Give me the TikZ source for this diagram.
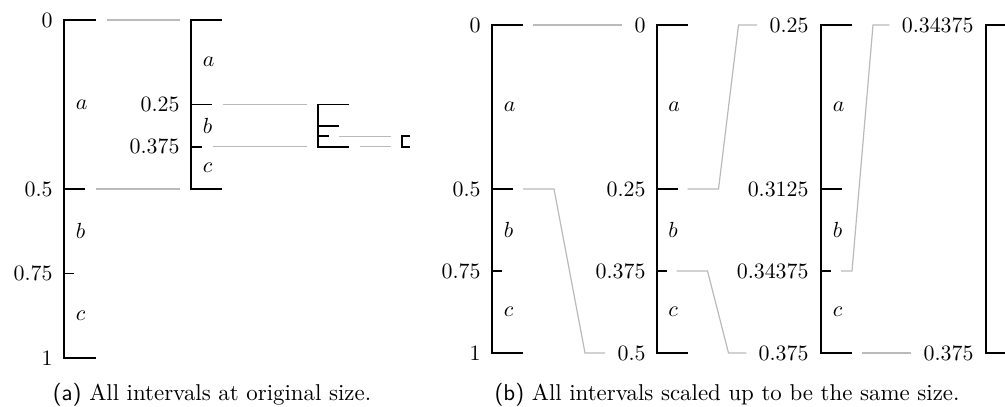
\documentclass[tikz,border=0pt]{standalone}
\usetikzlibrary{calc}

\tikzset{
  bar/.style={line width=0.9pt},
  link/.style={black!27, line width=0.55pt},
  val/.style={anchor=east, inner sep=0pt},
  part/.style={anchor=west, inner sep=0pt},
  caption/.style={scale=1.045},
}

\begin{document}
\begin{tikzpicture}[x=0.01605cm, y=-0.01605cm]
  \useasboundingbox (0,0) rectangle (1005,407);

  % (a) All intervals at original size, y = 20 + 338 v.
  \draw[bar] (96,20) coordinate (a1-0) -- (64,20) -- (64,358) -- (96,358) coordinate (a1-1);
  \draw[bar] (64,189) -- (85,189) coordinate (a1-h);
  \draw[bar] (64,273.5) -- (74,273.5) coordinate (a1-q);
  \node[val] (a1-v0) at (53,20) {0};
  \node[val] (a1-vh) at (53,189) {0.5};
  \node[val] (a1-vq) at (53,273.5) {0.75};
  \node[val] (a1-v1) at (53,358) {1};
  \node[part] (a1-a) at (75.5,104.5) {$a$};
  \node[part] (a1-b) at (75.5,231.25) {$b$};
  \node[part] (a1-c) at (75.5,315.75) {$c$};

  % First part, [0, 0.5].
  \draw[bar] (222,20) -- (191,20) coordinate (a2-top) -- (191,189) coordinate (a2-bot) -- (222,189);
  \draw[bar] (191,104.5) -- (212,104.5) coordinate (a2-h);
  \draw[bar] (191,146.75) -- (202,146.75) coordinate (a2-q);
  \node[val] (a2-vh) at (180,104.5) {0.25};
  \node[val] (a2-vq) at (180,146.75) {0.375};
  \node[part] (a2-a) at (202.5,62.25) {$a$};
  \node[part] (a2-b) at (202.5,125.6) {$b$};
  \node[part] (a2-c) at (202.5,167.9) {$c$};

  % Second part, [0.25, 0.375].
  \draw[bar] (349,104.5) -- (318,104.5) coordinate (a3-top) -- (318,146.75) coordinate (a3-bot) -- (349,146.75) coordinate (a3-1);
  \draw[bar] (318,125.6) -- (339,125.6);
  \draw[bar] (318,136.2) -- (329,136.2) coordinate (a3-q);

  % Third part, [0.34375, 0.375].
  \draw[bar] (410,136.2) -- (402,136.2) coordinate (a4-top) -- (402,146.75) coordinate (a4-bot) -- (410,146.75);

  % Grey links from each cut to the next part.
  \draw[link] (a1-0) ++(11,0) -- ($(a2-top)+(-11,0)$);
  \draw[link] (a1-h) ++(11,0) -- ($(a2-bot)+(-11,0)$);
  \draw[link] (a2-h) ++(11,0) -- ($(a3-top)+(-11,0)$);
  \draw[link] (a2-q) ++(11,0) -- ($(a3-bot)+(-11,0)$);
  \draw[link] (a3-q) ++(10,0) -- ($(a4-top)+(-11,0)$);
  \draw[link] (a3-1) ++(11,0) -- ($(a4-bot)+(-11,0)$);

  % (b) Every part scaled to the same size, y = 25 + 328 v.
  \foreach \x/\n in {492/b1, 656.5/b2, 821/b3} {
    \draw[bar] (\x+31,25) coordinate (\n-0) -- (\x,25) coordinate (\n-top)
      -- (\x,353) coordinate (\n-bot) -- (\x+31,353) coordinate (\n-1);
    \draw[bar] (\x,189) -- ++(21,0) coordinate (\n-h);
    \draw[bar] (\x,271) -- ++(10,0) coordinate (\n-q);
    \node[part] (\n-a) at (\x+11.5,107) {$a$};
    \node[part] (\n-b) at (\x+11.5,230) {$b$};
    \node[part] (\n-c) at (\x+11.5,312) {$c$};
  }
  \draw[bar] (1016.5,25) -- (985.5,25) coordinate (b4-top) -- (985.5,353) coordinate (b4-bot) -- (1016.5,353);

  \node[val] (b1-v0) at (481,25) {0};
  \node[val] (b1-vh) at (481,189) {0.5};
  \node[val] (b1-vq) at (481,271) {0.75};
  \node[val] (b1-v1) at (481,353) {1};
  \node[val] (b2-v0) at (646,25) {0};
  \node[val] (b2-vh) at (646,189) {0.25};
  \node[val] (b2-vq) at (646,271) {0.375};
  \node[val] (b2-v1) at (646,353) {0.5};
  \node[val] (b3-v0) at (809,25) {0.25};
  \node[val] (b3-vh) at (809,189) {0.3125};
  \node[val] (b3-vq) at (809,271) {0.34375};
  \node[val] (b3-v1) at (809,353) {0.375};
  \node[val] (b4-v0) at (974,25) {0.34375};
  \node[val] (b4-v1) at (974,353) {0.375};

  % Grey links from each cut to the label of the next scaled part.
  \draw[link] (b1-0) ++(10,0) -- ($(b2-v0.west)+(-12,0)$);
  \draw[link] (b1-h) ++(10,0) -- ++(31,0) -- ++(31,164) -- ($(b2-v1.west)+(-12,0)$);
  \draw[link] (b2-h) ++(10,0) -- ++(31,0) -- ++(20,-164) -- ($(b3-v0.west)+(-12,0)$);
  \draw[link] (b2-q) ++(10,0) -- ++(31,0) -- ++(21,82) -- ($(b3-v1.west)+(-12,0)$);
  \draw[link] (b3-q) ++(10,0) -- ++(11,0) -- ++(21,-246) -- ($(b4-v0.west)+(-12,0)$);
  \draw[link] (b3-1) ++(10,0) -- ($(b4-v1.west)+(-12,0)$);

  % Captions.
  \node[caption] (cap-a) at (212,395) {\textsf{(a)} All intervals at original size.};
  \node[caption] (cap-b) at (727,395) {\textsf{(b)} All intervals scaled up to be the same size.};

\end{tikzpicture}
\end{document}
